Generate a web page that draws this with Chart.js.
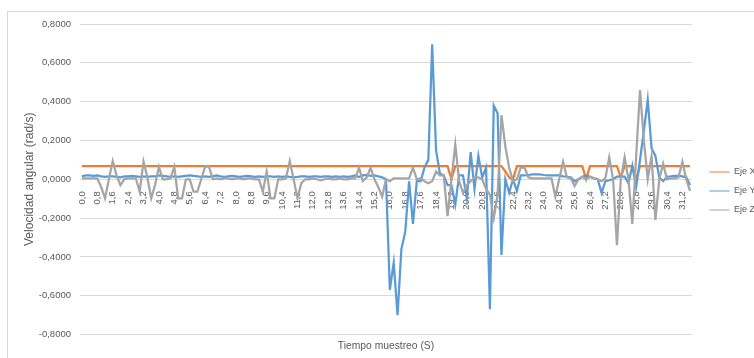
<!DOCTYPE html>
<html>
<head>
<meta charset="utf-8">
<script src="https://cdn.jsdelivr.net/npm/chart.js@4.4.1/dist/chart.umd.min.js"></script>
<style>
body { margin: 0; background: #fff; }
</style>
</head>
<body>
<canvas id="chart1" width="754" height="358"></canvas>
<script>
// tiempo de muestreo cada 0,2 s (etiquetas del eje de categorías)
var tiempo = [];
for (var i = 0; i < 159; i++) tiempo.push((i * 0.2).toFixed(1).replace('.', ','));

var ejeX = [
	0.068, 0.068, 0.068, 0.068, 0.068, 0.068, 0.068, 0.068, 0.068, 0.068,
	0.068, 0.068, 0.068, 0.068, 0.068, 0.068, 0.068, 0.068, 0.068, 0.068,
	0.068, 0.068, 0.068, 0.068, 0.068, 0.068, 0.068, 0.068, 0.068, 0.068,
	0.068, 0.068, 0.068, 0.068, 0.068, 0.068, 0.068, 0.068, 0.068, 0.068,
	0.068, 0.068, 0.068, 0.068, 0.068, 0.068, 0.068, 0.068, 0.068, 0.068,
	0.068, 0.068, 0.068, 0.068, 0.068, 0.068, 0.068, 0.068, 0.068, 0.068,
	0.068, 0.068, 0.068, 0.068, 0.068, 0.068, 0.068, 0.068, 0.068, 0.068,
	0.068, 0.068, 0.068, 0.068, 0.068, 0.068, 0.068, 0.068, 0.068, 0.068,
	0.068, 0.068, 0.068, 0.068, 0.068, 0.068, 0.068, 0.068, 0.068, 0.068,
	0.068, 0.068, 0.068, 0.068, 0.068, 0.068, 0.000, 0.068, 0.068, 0.068,
	0.068, 0.068, 0.068, 0.068, 0.068, 0.068, 0.068, 0.068, 0.068, 0.068,
	0.040, 0.010, 0.000, 0.068, 0.068, 0.068, 0.068, 0.068, 0.068, 0.068,
	0.068, 0.068, 0.068, 0.068, 0.068, 0.068, 0.068, 0.068, 0.068, 0.068,
	0.068, 0.000, 0.068, 0.068, 0.068, 0.068, 0.068, 0.068, 0.068, 0.068,
	0.010, 0.068, 0.068, 0.068, 0.000, 0.068, 0.068, 0.068, 0.068, 0.068,
	0.068, 0.068, 0.068, 0.068, 0.068, 0.068, 0.068, 0.068, 0.068
];

var ejeY = [
	0.015, 0.020, 0.020, 0.018, 0.020, 0.015, 0.012, 0.015, 0.015, 0.012,
	0.010, 0.015, 0.015, 0.018, 0.015, 0.012, 0.015, 0.012, 0.015, 0.015,
	0.020, 0.018, 0.015, 0.012, 0.015, 0.012, 0.015, 0.018, 0.020, 0.018,
	0.015, 0.012, 0.015, 0.012, 0.015, 0.020, 0.015, 0.012, 0.015, 0.018,
	0.015, 0.012, 0.015, 0.018, 0.015, 0.012, 0.015, 0.012, 0.015, 0.015,
	0.012, 0.015, 0.012, 0.015, 0.012, 0.010, 0.012, 0.015, 0.015, 0.012,
	0.015, 0.015, 0.012, 0.015, 0.015, 0.012, 0.015, 0.012, 0.015, 0.012,
	0.015, 0.020, 0.012, 0.020, 0.022, 0.018, 0.020, 0.015, 0.010, 0.000,
	-0.570, -0.430, -0.700, -0.360, -0.270, -0.010, -0.230, -0.010, -0.010, 0.060,
	0.100, 0.695, 0.150, 0.030, 0.020, -0.030, -0.030, -0.130, 0.020, 0.020,
	-0.100, 0.140, -0.050, 0.120, 0.010, 0.060, -0.670, 0.380, 0.340, -0.390,
	0.000, -0.070, 0.000, -0.060, 0.020, 0.020, 0.022, 0.025, 0.025, 0.025,
	0.022, 0.020, 0.020, 0.020, 0.020, 0.015, 0.013, 0.010, -0.010, 0.000,
	0.013, 0.020, 0.013, 0.005, 0.000, -0.070, -0.010, -0.005, 0.000, 0.013,
	0.013, 0.013, -0.020, 0.070, -0.040, 0.100, 0.250, 0.410, 0.160, 0.120,
	0.010, -0.010, 0.013, 0.015, 0.018, 0.018, 0.015, 0.010, -0.030
];

var ejeZ = [
	0.005, 0.005, 0.005, 0.005, 0.005, -0.040, -0.098, 0.000, 0.094, 0.020,
	-0.030, 0.000, 0.005, 0.005, 0.005, -0.064, 0.092, 0.010, -0.098, -0.030,
	0.065, 0.000, 0.000, 0.005, 0.065, -0.098, -0.098, 0.000, 0.000, -0.064,
	-0.064, 0.000, 0.065, 0.065, 0.000, 0.005, 0.000, 0.005, 0.005, 0.000,
	0.005, 0.005, 0.000, 0.005, 0.005, 0.000, 0.000, -0.064, 0.040, -0.098,
	-0.098, 0.000, 0.000, 0.005, 0.094, 0.000, -0.098, -0.020, 0.000, 0.000,
	0.005, 0.000, -0.005, 0.000, 0.005, 0.000, 0.000, 0.005, 0.000, 0.000,
	0.005, 0.005, 0.060, -0.010, 0.010, 0.060, 0.000, -0.040, -0.090, 0.000,
	-0.010, 0.005, 0.005, 0.005, 0.005, 0.005, 0.060, 0.000, 0.005, -0.010,
	-0.020, -0.010, 0.040, 0.020, 0.020, -0.190, 0.000, 0.180, -0.010, -0.070,
	-0.030, -0.010, 0.010, 0.010, 0.000, -0.050, -0.080, -0.200, -0.080, 0.330,
	0.170, 0.060, -0.010, 0.000, 0.060, 0.060, 0.010, 0.005, 0.005, 0.005,
	0.005, 0.005, 0.005, -0.090, 0.000, 0.090, 0.010, 0.005, -0.035, 0.000,
	0.013, 0.000, 0.013, 0.005, 0.000, -0.010, 0.005, 0.113, 0.000, -0.340,
	0.000, 0.113, 0.000, -0.230, 0.120, 0.460, 0.200, 0.000, 0.120, -0.210,
	0.000, 0.080, 0.000, 0.005, 0.005, 0.010, 0.090, 0.000, -0.060
];

var GRIS_TEXTO = '#595959';
var GRIS_LINEA = '#d9d9d9';

Chart.defaults.font.family = "'Liberation Sans', Arial, sans-serif";
Chart.defaults.color = GRIS_TEXTO;

// fondo blanco y marco del gráfico
var marco = {
	id: 'marco',
	beforeDraw: function(chart) {
		var c = chart.ctx;
		c.save();
		c.fillStyle = '#fff';
		c.fillRect(0, 0, chart.width, chart.height);
		c.strokeStyle = GRIS_LINEA;
		c.lineWidth = 1;
		c.strokeRect(7.5, 11.5, chart.width, chart.height);
		c.restore();
	}
};

var ctx = document.getElementById("chart1").getContext("2d");
new Chart(ctx, {
	type: 'line',
	data: {
		labels: tiempo,
		datasets: [{
			label: 'Eje X',
			data: ejeX,
			borderColor: '#ed7d31',
			backgroundColor: '#ed7d31',
			order: 2
		}, {
			label: 'Eje Y',
			data: ejeY,
			borderColor: '#5b9bd5',
			backgroundColor: '#5b9bd5',
			order: 1
		}, {
			label: 'Eje Z',
			data: ejeZ,
			borderColor: '#a5a5a5',
			backgroundColor: '#a5a5a5',
			order: 0
		}]
	},
	options: {
		responsive: false,
		animation: false,
		layout: {
			padding: { left: 20, top: 24, right: -11.5, bottom: 0 }
		},
		elements: {
			point: { radius: 0 },
			line: { borderWidth: 2.25, tension: 0 }
		},
		plugins: {
			legend: {
				position: 'right',
				labels: {
					usePointStyle: true,
					pointStyle: 'line',
					pointStyleWidth: 20,
					padding: 10,
					color: GRIS_TEXTO,
					font: { size: 9 },
					sort: function(a, b) { return a.datasetIndex - b.datasetIndex; }
				}
			},
			title: {
				display: true,
				position: 'bottom',
				fullSize: false,
				text: 'Tiempo muestreo (S)',
				color: GRIS_TEXTO,
				font: { size: 10.3, weight: 'normal' },
				padding: { top: 5.3, bottom: 5.8 }
			},
			tooltip: { enabled: false }
		},
		scales: {
			x: {
				position: { y: 0 },
				offset: true,
				grid: { display: false },
				border: { display: true, color: GRIS_LINEA },
				ticks: {
					autoSkip: false,
					minRotation: 90,
					maxRotation: 90,
					padding: 4,
					font: { size: 9.5 },
					callback: function(v, i) { return i % 4 === 0 ? tiempo[i] : ''; }
				}
			},
			y: {
				min: -0.8,
				max: 0.8,
				grid: { color: GRIS_LINEA, drawTicks: false },
				border: { display: false },
				ticks: {
					stepSize: 0.2,
					padding: 9,
					font: { size: 9.5 },
					callback: function(v) {
						if (Math.abs(v) < 1e-9) v = 0;
						return v.toFixed(4).replace('.', ',');
					}
				},
				title: {
					display: true,
					text: 'Velocidad angular (rad/s)',
					color: GRIS_TEXTO,
					font: { size: 12 },
					padding: { top: 2, bottom: 2 }
				},
				afterFit: function(s) { s.width = 60; }
			},
			// hueco entre el área de trazado y la leyenda
			hueco: {
				type: 'linear',
				position: 'right',
				display: true,
				grid: { display: false },
				border: { display: false },
				ticks: { display: false },
				afterFit: function(s) { s.width = 7.5; }
			}
		}
	},
	plugins: [marco]
});
</script>
</body>
</html>
